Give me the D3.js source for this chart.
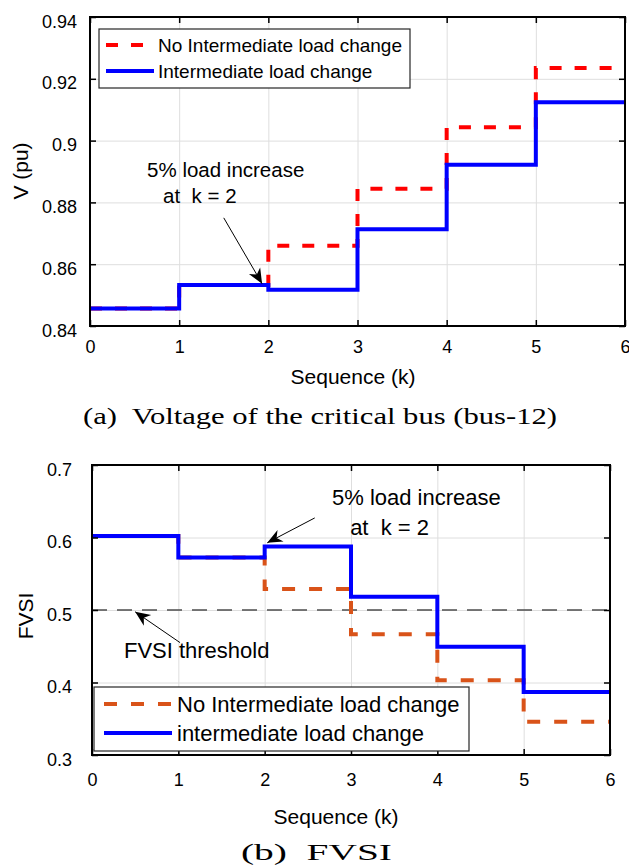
<!DOCTYPE html>
<html>
<head>
<meta charset="utf-8">
<script src="https://cdnjs.cloudflare.com/ajax/libs/d3/7.8.5/d3.min.js"></script>
<style>
  body { margin: 0; background: #fff; }
  svg text { font-family: "Liberation Sans", Arial, sans-serif; fill: #000; }
  svg text.caption { font-family: "Liberation Serif", serif; }
  .grid line { stroke: #dedede; stroke-width: 1; }
  .grid path, .ticks path, .labels path { display: none; }
  .ticks line { stroke: #000; stroke-width: 1.5; }
  .note { white-space: pre; }
</style>
</head>
<body>
<div id="canvas"></div>
<script>
// sequence steps k
const kTicks = [0, 1, 2, 3, 4, 5, 6];

// (a) voltage of bus-12
const vTicks = [0.84, 0.86, 0.88, 0.90, 0.92, 0.94];
const vNoChange = [0.8457, 0.8533, 0.8660, 0.8844, 0.9043, 0.9235];
const vChange = [0.8457, 0.8533, 0.8517, 0.8713, 0.8922, 0.9124];

// (b) FVSI
const fvsiTicks = [0.3, 0.4, 0.5, 0.6, 0.7];
const fvsiNoChange = [0.602, 0.5724, 0.529, 0.4665, 0.403, 0.3457];
const fvsiChange = [0.602, 0.5724, 0.5877, 0.5183, 0.4494, 0.387];
const fvsiThreshold = [0.5];

const W = 629;
const H = 866;

const svg = d3.select("#canvas")
  .append("svg")
  .attr("width", W)
  .attr("height", H)

const defs = svg.append("defs")
defs.append("marker")
  .attr("id", "head")
  .attr("markerUnits", "userSpaceOnUse")
  .attr("viewBox", "-16 -8 17 16")
  .attr("refX", 0)
  .attr("refY", 0)
  .attr("markerWidth", 17)
  .attr("markerHeight", 16)
  .attr("orient", "auto")
  .append("path")
  .attr("d", "M0,0 L-15,-6.5 L-10.5,0 L-15,6.5 Z")
  .style("fill", "#000")

function stepPoints(values){
  const pts = values.map(function(v, i){ return [kTicks[i], v] })
  return pts.concat([[kTicks[values.length], values[values.length - 1]]])
}

function fmt(d){
  return String(+d.toFixed(2))
}

function drawPanel(p){
  const g = svg.append("g")
    .attr("transform", "translate(" + p.left + "," + p.top + ")")

  const x = d3.scaleLinear().domain([0, 6]).range([0, p.width])
  const y = d3.scaleLinear().domain(d3.extent(p.yTicks)).range([p.height, 0])

  //gridlines
  g.append("g")
    .classed("grid", true)
    .attr("transform", "translate(0," + p.height + ")")
    .call(d3.axisBottom(x).tickValues(kTicks.slice(1, -1)).tickSize(-p.height).tickFormat(""))
  g.append("g")
    .classed("grid", true)
    .call(d3.axisLeft(y).tickValues(p.yTicks.slice(1, -1)).tickSize(-p.width).tickFormat(""))

  //reference line
  if(p.threshold){
    g.selectAll(".threshold")
      .data(p.threshold)
      .enter()
      .append("line")
      .classed("threshold", true)
      .attr("x1", x(0))
      .attr("x2", x(6))
      .attr("y1", function(d){ return y(d) })
      .attr("y2", function(d){ return y(d) })
      .style("stroke", "#4d4d4d")
      .style("stroke-width", 1.5)
      .style("stroke-dasharray", "15,10")
  }

  //step series
  const line = d3.line()
    .x(function(d){ return x(d[0]) })
    .y(function(d){ return y(d[1]) })
    .curve(d3.curveStepAfter)

  p.series.forEach(function(s){
    g.append("path")
      .datum(stepPoints(s.values))
      .attr("d", line)
      .style("fill", "none")
      .style("stroke", s.color)
      .style("stroke-width", 4)
      .style("stroke-dasharray", s.dash || null)
  })

  //inward ticks on all sides
  g.append("g").classed("ticks", true)
    .attr("transform", "translate(0," + p.height + ")")
    .call(d3.axisBottom(x).tickValues(kTicks).tickSize(-6).tickFormat(""))
  g.append("g").classed("ticks", true)
    .call(d3.axisTop(x).tickValues(kTicks).tickSize(-6).tickFormat(""))
  g.append("g").classed("ticks", true)
    .call(d3.axisLeft(y).tickValues(p.yTicks).tickSize(-6).tickFormat(""))
  g.append("g").classed("ticks", true)
    .attr("transform", "translate(" + p.width + ",0)")
    .call(d3.axisRight(y).tickValues(p.yTicks).tickSize(-6).tickFormat(""))

  g.append("rect")
    .attr("width", p.width)
    .attr("height", p.height)
    .style("fill", "none")
    .style("stroke", "#000")
    .style("stroke-width", 2)

  //tick labels
  const xl = g.append("g").classed("labels", true)
    .attr("transform", "translate(0," + p.height + ")")
    .call(d3.axisBottom(x).tickValues(kTicks).tickSize(0).tickFormat(d3.format("d")))
  xl.selectAll("text")
    .attr("y", p.xLabelY)
    .attr("dy", null)
    .style("font-size", p.tickFont + "px")
  xl.selectAll("line").remove()

  const yl = g.append("g").classed("labels", true)
    .call(d3.axisLeft(y).tickValues(p.yTicks).tickSize(0).tickFormat(fmt))
  yl.selectAll("text")
    .attr("x", p.yLabelX)
    .attr("y", 10)
    .attr("dy", null)
    .style("font-size", p.tickFont + "px")
  yl.selectAll("line").remove()

  //axis titles
  g.append("text")
    .attr("x", p.xTitle[0])
    .attr("y", p.xTitle[1])
    .attr("text-anchor", "middle")
    .style("font-size", "21px")
    .text("Sequence (k)")

  g.append("text")
    .attr("transform", "translate(" + p.yTitle[0] + "," + p.yTitle[1] + ") rotate(-90)")
    .attr("text-anchor", "middle")
    .style("font-size", "21px")
    .text(p.yName)

  //annotations
  p.notes.forEach(function(n){
    n.lines.forEach(function(t, i){
      g.append("text")
        .classed("note", true)
        .attr("x", x(n.at[i][0]))
        .attr("y", y(n.at[i][1]))
        .style("font-size", n.size + "px")
        .text(t)
    })
    g.append("line")
      .attr("x1", x(n.tail[0]))
      .attr("y1", y(n.tail[1]))
      .attr("x2", x(n.tip[0]))
      .attr("y2", y(n.tip[1]))
      .style("stroke", "#000")
      .style("stroke-width", 1)
      .attr("marker-end", "url(#head)")
  })

  //legend
  const lg = g.append("g")
    .attr("transform", "translate(" + p.legend.x + "," + p.legend.y + ")")
  lg.append("rect")
    .attr("width", p.legend.w)
    .attr("height", p.legend.h)
    .style("fill", "#fff")
    .style("stroke", "#262626")
    .style("stroke-width", 1.2)
  p.series.forEach(function(s, i){
    const cy = p.legend.rows[i]
    lg.append("line")
      .attr("x1", p.legend.sx[0])
      .attr("x2", p.legend.sx[1])
      .attr("y1", cy)
      .attr("y2", cy)
      .style("stroke", s.color)
      .style("stroke-width", 4)
      .style("stroke-dasharray", s.dash || null)
    lg.append("text")
      .attr("x", p.legend.tx)
      .attr("y", cy + p.legend.font * 0.36)
      .style("font-size", p.legend.font + "px")
      .text(s.name)
  })

  svg.append("text")
    .classed("caption", true)
    .attr("x", p.caption.x)
    .attr("y", p.caption.y)
    .attr("textLength", p.caption.len)
    .attr("lengthAdjust", "spacingAndGlyphs")
    .style("font-size", "24px")
    .style("white-space", "pre")
    .text(p.caption.text)
}

drawPanel({
  left: 90, top: 17, width: 535, height: 309,
  yTicks: vTicks,
  tickFont: 18, xLabelY: 27, yLabelX: -13,
  xTitle: [263, 367], yTitle: [-62, 154], yName: "V (pu)",
  series: [
    {name: "No Intermediate load change", values: vNoChange, color: "#ff0000", dash: "12,13"},
    {name: "Intermediate load change", values: vChange, color: "#0000ff"}
  ],
  notes: [
    {lines: ["5% load increase", "at  k = 2"], at: [[0.64, 0.8883], [0.82, 0.8799]],
     size: 20.5, tail: [1.5, 0.875], tip: [1.93, 0.8537]}
  ],
  legend: {x: 9, y: 12, w: 311, h: 59, rows: [16, 42], sx: [7, 55], tx: 59, font: 19},
  caption: {x: 83, y: 424, len: 474, text: "(a)  Voltage of the critical bus (bus-12)"}
})

drawPanel({
  left: 92, top: 465, width: 518, height: 290,
  yTicks: fvsiTicks,
  tickFont: 18, xLabelY: 31, yLabelX: -20,
  xTitle: [244, 359], yTitle: [-59, 151], yName: "FVSI",
  threshold: fvsiThreshold,
  series: [
    {name: "No Intermediate load change", values: fvsiNoChange, color: "#d95319", dash: "13,14"},
    {name: "intermediate load change", values: fvsiChange, color: "#0000ff"}
  ],
  notes: [
    {lines: ["5% load increase", "at  k = 2"], at: [[2.78, 0.645], [2.99, 0.6037]],
     size: 22, tail: [2.58, 0.627], tip: [2.03, 0.5927]},
    {lines: ["FVSI threshold"], at: [[0.37, 0.434]],
     size: 22, tail: [1.02, 0.455], tip: [0.5, 0.4975]}
  ],
  legend: {x: 2, y: 222, w: 375, h: 64, rows: [17, 46], sx: [10, 78], tx: 83, font: 22},
  caption: {x: 241, y: 860, len: 151, text: "(b)  FVSI"}
})
</script>
</body>
</html>
